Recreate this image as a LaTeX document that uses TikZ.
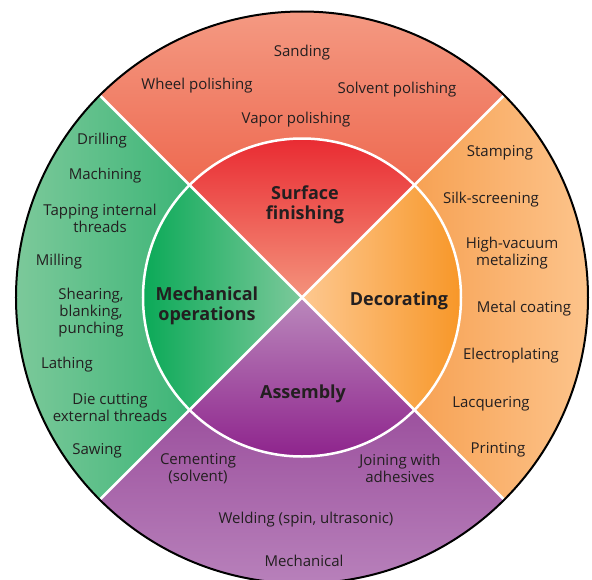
\documentclass[tikz,border=0pt]{standalone}
\usepackage{fontspec}
\setmainfont{Open Sans}
\usepackage{tikz}
\usetikzlibrary{positioning}
\usepackage{xcolor}

\definecolor{ink}{HTML}{231F20}
\definecolor{redA}{HTML}{E8212B}
\definecolor{redB}{HTML}{F4937C}
\definecolor{redC}{HTML}{F5A18A}
\definecolor{redD}{HTML}{EE6950}
\definecolor{grnA}{HTML}{00A651}
\definecolor{grnB}{HTML}{7CC99B}
\definecolor{grnC}{HTML}{86CCA0}
\definecolor{grnD}{HTML}{3DB577}
\definecolor{orgA}{HTML}{F7921E}
\definecolor{orgB}{HTML}{FDC890}
\definecolor{orgC}{HTML}{FDC994}
\definecolor{orgD}{HTML}{F7A254}
\definecolor{purA}{HTML}{8A1A88}
\definecolor{purB}{HTML}{BA88BC}
\definecolor{purC}{HTML}{BC88BF}
\definecolor{purD}{HTML}{9C519E}

\begin{document}
\begin{tikzpicture}[x=1pt, y=1pt,
    item/.style={text=ink, align=center, inner sep=0pt, font=\fontsize{15}{17}\selectfont},
    cat/.style={text=ink, align=center, inner sep=0pt, font=\fontsize{18}{20}\selectfont\bfseries}]

    \fill[white] (-302,-281.5) rectangle (290,297.5);
    \useasboundingbox (-302,-281.5) rectangle (290,297.5);
    \clip (-302,-281.5) rectangle (290,297.5);

    % outer ring
    \fill[top color=redC, bottom color=redD] (45:159) -- (45:286) arc[start angle=45, end angle=135, radius=286] -- (135:159) arc[start angle=135, end angle=45, radius=159] -- cycle;
    \fill[left color=grnC, right color=grnD] (135:159) -- (135:286) arc[start angle=135, end angle=225, radius=286] -- (225:159) arc[start angle=225, end angle=135, radius=159] -- cycle;
    \fill[top color=purD, bottom color=purC] (225:159) -- (225:286) arc[start angle=225, end angle=315, radius=286] -- (315:159) arc[start angle=315, end angle=225, radius=159] -- cycle;
    \fill[left color=orgD, right color=orgC] (-45:159) -- (-45:286) arc[start angle=-45, end angle=45, radius=286] -- (45:159) arc[start angle=45, end angle=-45, radius=159] -- cycle;

    % inner wedges
    \fill[top color=redA, bottom color=redB] (0,0) -- (45:159) arc[start angle=45, end angle=135, radius=159] -- cycle;
    \fill[left color=grnA, right color=grnB] (0,0) -- (135:159) arc[start angle=135, end angle=225, radius=159] -- cycle;
    \fill[top color=purB, bottom color=purA] (0,0) -- (225:159) arc[start angle=225, end angle=315, radius=159] -- cycle;
    \fill[left color=orgB, right color=orgA] (0,0) -- (-45:159) arc[start angle=-45, end angle=45, radius=159] -- cycle;

    % dividers
    \coordinate (ne) at (45:286);
    \coordinate (nw) at (135:286);
    \coordinate (sw) at (225:286);
    \coordinate (se) at (315:286);
    \draw[white, line width=2.5pt] (ne) -- (sw);
    \draw[white, line width=2.5pt] (nw) -- (se);
    \draw[white, line width=2.5pt] (0,0) circle[radius=159];
    \draw[black, line width=2pt] (0,0) circle[radius=286];

    % categories
    \node[cat] (surf) at (3,93) {Surface\\finishing};
    \node[cat] (mech) at (-95,-8) {Mechanical\\operations};
    \node[cat] (deco) at (97,-3) {Decorating};
    \node[cat] (asm) at (1,-96) {Assembly};

    % surface finishing
    \node[item] (sand) at (0,245) {Sanding};
    \node[item] (wheel) at (-105,212) {Wheel polishing};
    \node[item] (solv) at (95,208) {Solvent polishing};
    \node[item] (vapor) at (-6,178) {Vapor polishing};

    % mechanical operations
    \node[item] (drill) at (-200,157) {Drilling};
    \node[item] (mach) at (-197,122) {Machining};
    \node[item] (tap) at (-202,79) {Tapping internal\\threads};
    \node[item] (mill) at (-243,36) {Milling};
    \node[item] (shear) at (-211,-15.5) {Shearing,\\blanking,\\punching};
    \node[item] (lathe) at (-235,-67) {Lathing};
    \node[item] (die) at (-192,-110) {Die cutting\\external threads};
    \node[item] (saw) at (-205,-153) {Sawing};

    % decorating
    \node[item] (stamp) at (198,145) {Stamping};
    \node[item] (silk) at (189,98) {Silk-screening};
    \node[item] (vac) at (210,44) {High-vacuum\\metalizing};
    \node[item] (coat) at (222,-11) {Metal coating};
    \node[item] (elec) at (209,-58) {Electroplating};
    \node[item] (lacq) at (189,-106) {Lacquering};
    \node[item] (print) at (196,-152) {Printing};

    % assembly
    \node[item] (cem) at (-104,-171) {Cementing\\(solvent)};
    \node[item] (join) at (98,-171) {Joining with\\adhesives};
    \node[item] (weld) at (4,-222) {Welding (spin, ultrasonic)};
    \node[item] (mechj) at (2,-263) {Mechanical};
\end{tikzpicture}
\end{document}
